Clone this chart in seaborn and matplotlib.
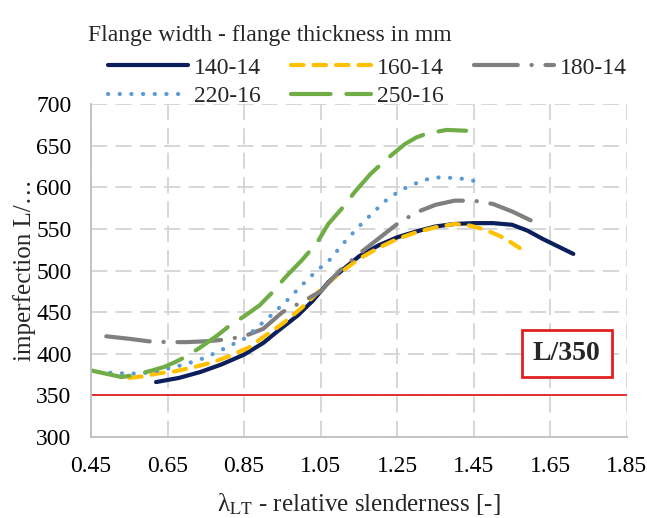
import numpy as np
import pandas as pd
import matplotlib
matplotlib.use("Agg")
import matplotlib.pyplot as plt
import seaborn as sns

# Datos (esbeltez relativa vs imperfeccion L/...)
x_140 = [0.62, 0.68, 0.735, 0.79, 0.85, 0.90, 0.94, 0.99, 1.03, 1.07, 1.11, 1.15, 1.20, 1.25, 1.30, 1.35, 1.40, 1.45, 1.50, 1.55, 1.59, 1.63, 1.67, 1.71]
y_140 = [366, 371, 378, 387, 399, 413, 428, 446, 464, 486, 502, 517, 530, 540, 547, 553, 556, 557, 557, 555, 548, 538, 529, 520]

x_160 = [0.55, 0.59, 0.62, 0.67, 0.72, 0.77, 0.81, 0.86, 0.90, 0.95, 1.00, 1.05, 1.10, 1.15, 1.20, 1.25, 1.30, 1.35, 1.40, 1.44, 1.48, 1.53, 1.57]
y_160 = [371, 373, 376, 379, 384, 390, 397, 407, 420, 436, 455, 477, 497, 514, 527, 538, 546, 552, 556, 554, 549, 539, 527]

x_180 = [0.49, 0.55, 0.60, 0.65, 0.70, 0.75, 0.80, 0.85, 0.90, 0.95, 1.00, 1.05, 1.10, 1.15, 1.20, 1.25, 1.30, 1.35, 1.40, 1.45, 1.50, 1.55, 1.60]
y_180 = [421, 418, 415, 414, 414, 415, 417, 421, 430, 450, 462, 475, 500, 520, 538, 556, 570, 579, 584, 584, 580, 571, 560]

x_220 = [0.47, 0.51, 0.55, 0.59, 0.62, 0.66, 0.70, 0.74, 0.78, 0.81, 0.85, 0.88, 0.92, 0.96, 1.00, 1.04, 1.07, 1.11, 1.15, 1.19, 1.22, 1.26, 1.30, 1.33, 1.36, 1.41, 1.46]
y_220 = [378, 377, 376, 377, 379, 383, 388, 394, 402, 409, 418, 430, 446, 463, 482, 500, 511, 533, 553, 571, 584, 597, 605, 610, 612, 611, 607]

x_250 = [0.45, 0.50, 0.53, 0.57, 0.61, 0.64, 0.67, 0.70, 0.74, 0.78, 0.81, 0.85, 0.89, 0.92, 0.96, 1.00, 1.04, 1.07, 1.11, 1.14, 1.18, 1.22, 1.27, 1.30, 1.33, 1.38, 1.43]
y_250 = [380, 375, 372, 375, 380, 384, 390, 397, 409, 422, 433, 445, 458, 472, 493, 512, 533, 556, 577, 595, 616, 633, 652, 660, 665, 669, 668]

series = ["140-14", "160-14", "180-14", "220-16", "250-16"]
colores = ["#0B1F5C", "#FFC000", "#7F7F7F", "#5B9BD5", "#70AD47"]
x_ticks = [0.45, 0.65, 0.85, 1.05, 1.25, 1.45, 1.65, 1.85]
y_ticks = [300, 350, 400, 450, 500, 550, 600, 650, 700]

datos = {
    "140-14": (x_140, y_140),
    "160-14": (x_160, y_160),
    "180-14": (x_180, y_180),
    "220-16": (x_220, y_220),
    "250-16": (x_250, y_250),
}

# estilos de linea (solida, guiones, raya-punto, puntos, raya larga)
estilos = {
    "140-14": "-",
    "160-14": (0, (3.0, 2.4)),
    "180-14": (0, (10.5, 3.3, 0.05, 3.3)),
    "220-16": (0, (0.05, 2.75)),
    "250-16": (0, (9.5, 3.8)),
}

sns.set_style("white")
plt.rcParams["font.family"] = ["Liberation Serif", "DejaVu Serif"]
plt.rcParams["mathtext.fontset"] = "stix"

fig = plt.figure(figsize=(6.47, 5.18), dpi=100)
ax = fig.add_axes([0.1406, 0.1564, 0.969 - 0.1406, 0.799 - 0.1564])

lineas = {}
for nombre, color in zip(series, colores):
    xs, ys = datos[nombre]
    df = pd.DataFrame({"x": xs, "y": ys})
    n_antes = len(ax.lines)
    sns.lineplot(data=df, x="x", y="y", color=color, ax=ax, lw=3.0, sort=False, legend=False)
    ln = ax.lines[n_antes]
    ln.set_linestyle(estilos[nombre])
    ln.set_dash_capstyle("round")
    ln.set_solid_capstyle("round")
    ln.set_label(nombre)
    lineas[nombre] = ln

ax.axhline(350, color="#E02020", lw=1.3, zorder=1)

ax.set_xlim(0.45, 1.85)
ax.set_ylim(300, 700)
ax.set_xticks(x_ticks)
ax.set_xticklabels([f"{v:.2f}" for v in x_ticks])
ax.set_yticks(y_ticks)
ax.tick_params(axis="both", length=0, pad=14, labelsize=17, colors="#000000")

ax.grid(True, color="#D4D4D4", lw=1.3, linestyle=(0, (9, 4.5)))
ax.set_axisbelow(True)
for s in ["top", "right"]:
    ax.spines[s].set_visible(False)
for s in ["left", "bottom"]:
    ax.spines[s].set_color("#BFBFBF")
    ax.spines[s].set_linewidth(1.3)

ax.set_xlabel("λ$_{\\rm LT}$ - relative slenderness [-]", fontsize=18, labelpad=10)
ax.set_ylabel("imperfection L/…", fontsize=18, labelpad=0)

ax.text(1.693, 400, "L/350", fontsize=20, fontweight="bold", ha="center", va="center",
        bbox=dict(boxstyle="square,pad=0.4", fc="white", ec="#E02020", lw=2.0), zorder=5)

# leyenda arriba
fig.text(88 / 647, 1 - 36 / 518, "Flange width - flange thickness in mm", fontsize=17,
         ha="left", va="center")
orden = ["140-14", "220-16", "160-14", "250-16", "180-14"]
fig.legend([lineas[k] for k in orden], orden, ncol=3, loc="upper left",
           bbox_to_anchor=(108 / 647, 1 - 57 / 518), frameon=False, fontsize=17,
           handlelength=3.4, handletextpad=0.25, columnspacing=1.25, labelspacing=0.3,
           borderpad=0, borderaxespad=0)

fig.savefig("out.png", dpi=100)
